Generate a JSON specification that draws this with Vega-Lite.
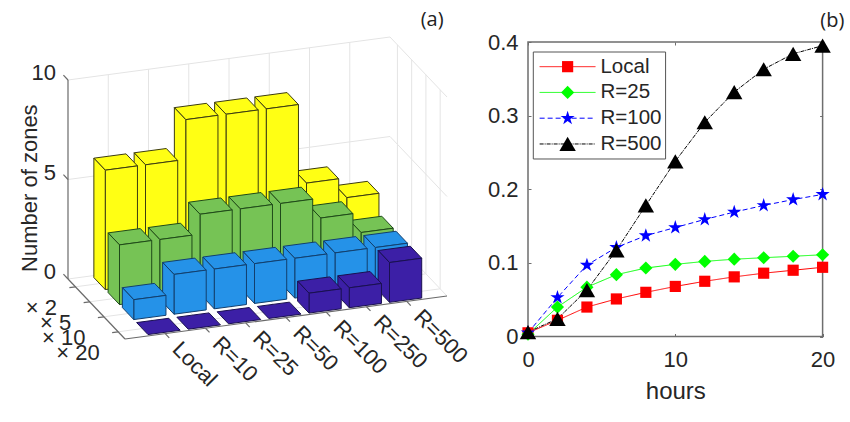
{"$schema":"https://vega.github.io/schema/vega-lite/v6.json","padding":0,"background":"white","bounds":"flush","spacing":28,"config":{"font":"Liberation Sans"},
"datasets":{
"bars":[
{"radius":"R=500","multiplier":"× 2","zones":3},{"radius":"R=250","multiplier":"× 2","zones":4},{"radius":"R=100","multiplier":"× 2","zones":8},{"radius":"R=50","multiplier":"× 2","zones":8},{"radius":"R=25","multiplier":"× 2","zones":8},{"radius":"R=10","multiplier":"× 2","zones":6},{"radius":"Local","multiplier":"× 2","zones":6},
{"radius":"R=500","multiplier":"× 5","zones":2},{"radius":"R=250","multiplier":"× 5","zones":3},{"radius":"R=100","multiplier":"× 5","zones":4},{"radius":"R=50","multiplier":"× 5","zones":4},{"radius":"R=25","multiplier":"× 5","zones":4},{"radius":"R=10","multiplier":"× 5","zones":3},{"radius":"Local","multiplier":"× 5","zones":3},
{"radius":"R=500","multiplier":"× 10","zones":2},{"radius":"R=250","multiplier":"× 10","zones":2},{"radius":"R=100","multiplier":"× 10","zones":2},{"radius":"R=50","multiplier":"× 10","zones":2},{"radius":"R=25","multiplier":"× 10","zones":2},{"radius":"R=10","multiplier":"× 10","zones":2},{"radius":"Local","multiplier":"× 10","zones":1},
{"radius":"R=500","multiplier":"× 20","zones":2},{"radius":"R=250","multiplier":"× 20","zones":1},{"radius":"R=100","multiplier":"× 20","zones":1},{"radius":"R=50","multiplier":"× 20","zones":0},{"radius":"R=25","multiplier":"× 20","zones":0},{"radius":"R=10","multiplier":"× 20","zones":0},{"radius":"Local","multiplier":"× 20","zones":0}],
"grid":[
{"u":1,"v":5,"z":0,"u2":1,"v2":5,"z2":10},{"u":2,"v":5,"z":0,"u2":2,"v2":5,"z2":10},{"u":3,"v":5,"z":0,"u2":3,"v2":5,"z2":10},{"u":4,"v":5,"z":0,"u2":4,"v2":5,"z2":10},{"u":5,"v":5,"z":0,"u2":5,"v2":5,"z2":10},{"u":6,"v":5,"z":0,"u2":6,"v2":5,"z2":10},{"u":7,"v":5,"z":0,"u2":7,"v2":5,"z2":10},
{"u":0,"v":5,"z":0,"u2":8,"v2":5,"z2":0},{"u":0,"v":5,"z":5,"u2":8,"v2":5,"z2":5},{"u":0,"v":5,"z":10,"u2":8,"v2":5,"z2":10},
{"u":8,"v":0.6,"z":0,"u2":8,"v2":0.6,"z2":10},{"u":8,"v":1.85,"z":0,"u2":8,"v2":1.85,"z2":10},{"u":8,"v":3.1,"z":0,"u2":8,"v2":3.1,"z2":10},{"u":8,"v":4.35,"z":0,"u2":8,"v2":4.35,"z2":10},
{"u":8,"v":0,"z":0,"u2":8,"v2":5,"z2":0},{"u":8,"v":0,"z":5,"u2":8,"v2":5,"z2":5},{"u":8,"v":0,"z":10,"u2":8,"v2":5,"z2":10},
{"u":1,"v":0,"z":0,"u2":1,"v2":5,"z2":0},{"u":2,"v":0,"z":0,"u2":2,"v2":5,"z2":0},{"u":3,"v":0,"z":0,"u2":3,"v2":5,"z2":0},{"u":4,"v":0,"z":0,"u2":4,"v2":5,"z2":0},{"u":5,"v":0,"z":0,"u2":5,"v2":5,"z2":0},{"u":6,"v":0,"z":0,"u2":6,"v2":5,"z2":0},{"u":7,"v":0,"z":0,"u2":7,"v2":5,"z2":0},
{"u":0,"v":0.6,"z":0,"u2":8,"v2":0.6,"z2":0},{"u":0,"v":1.85,"z":0,"u2":8,"v2":1.85,"z2":0},{"u":0,"v":3.1,"z":0,"u2":8,"v2":3.1,"z2":0},{"u":0,"v":4.35,"z":0,"u2":8,"v2":4.35,"z2":0}],
"axes3d":[
{"u":0,"v":5,"z":0,"u2":0,"v2":5,"z2":10},{"u":0,"v":0,"z":0,"u2":8,"v2":0,"z2":0},{"u":0,"v":0,"z":0,"u2":0,"v2":5,"z2":0},
{"u":0,"v":5,"z":0,"u2":0,"v2":5.4,"z2":0},{"u":0,"v":5,"z":5,"u2":0,"v2":5.4,"z2":5},{"u":0,"v":5,"z":10,"u2":0,"v2":5.4,"z2":10},
{"u":1,"v":0,"z":0,"u2":1,"v2":-0.35,"z2":0},{"u":2,"v":0,"z":0,"u2":2,"v2":-0.35,"z2":0},{"u":3,"v":0,"z":0,"u2":3,"v2":-0.35,"z2":0},{"u":4,"v":0,"z":0,"u2":4,"v2":-0.35,"z2":0},{"u":5,"v":0,"z":0,"u2":5,"v2":-0.35,"z2":0},{"u":6,"v":0,"z":0,"u2":6,"v2":-0.35,"z2":0},{"u":7,"v":0,"z":0,"u2":7,"v2":-0.35,"z2":0},
{"u":0,"v":0.6,"z":0,"u2":-0.15,"v2":0.6,"z2":0},{"u":0,"v":1.85,"z":0,"u2":-0.15,"v2":1.85,"z2":0},{"u":0,"v":3.1,"z":0,"u2":-0.15,"v2":3.1,"z2":0},{"u":0,"v":4.35,"z":0,"u2":-0.15,"v2":4.35,"z2":0}],
"lines":[
{"hours":0,"value":0.005,"series":"Local"},{"hours":2,"value":0.022,"series":"Local"},{"hours":4,"value":0.04,"series":"Local"},{"hours":6,"value":0.051,"series":"Local"},{"hours":8,"value":0.06,"series":"Local"},{"hours":10,"value":0.068,"series":"Local"},{"hours":12,"value":0.075,"series":"Local"},{"hours":14,"value":0.081,"series":"Local"},{"hours":16,"value":0.086,"series":"Local"},{"hours":18,"value":0.09,"series":"Local"},{"hours":20,"value":0.094,"series":"Local"},
{"hours":0,"value":0.003,"series":"R=25"},{"hours":2,"value":0.04,"series":"R=25"},{"hours":4,"value":0.067,"series":"R=25"},{"hours":6,"value":0.084,"series":"R=25"},{"hours":8,"value":0.093,"series":"R=25"},{"hours":10,"value":0.098,"series":"R=25"},{"hours":12,"value":0.102,"series":"R=25"},{"hours":14,"value":0.105,"series":"R=25"},{"hours":16,"value":0.107,"series":"R=25"},{"hours":18,"value":0.109,"series":"R=25"},{"hours":20,"value":0.111,"series":"R=25"},
{"hours":0,"value":0.005,"series":"R=100"},{"hours":2,"value":0.053,"series":"R=100"},{"hours":4,"value":0.097,"series":"R=100"},{"hours":6,"value":0.121,"series":"R=100"},{"hours":8,"value":0.137,"series":"R=100"},{"hours":10,"value":0.148,"series":"R=100"},{"hours":12,"value":0.159,"series":"R=100"},{"hours":14,"value":0.169,"series":"R=100"},{"hours":16,"value":0.178,"series":"R=100"},{"hours":18,"value":0.186,"series":"R=100"},{"hours":20,"value":0.193,"series":"R=100"},
{"hours":0,"value":0.006,"series":"R=500"},{"hours":2,"value":0.024,"series":"R=500"},{"hours":4,"value":0.063,"series":"R=500"},{"hours":6,"value":0.117,"series":"R=500"},{"hours":8,"value":0.178,"series":"R=500"},{"hours":10,"value":0.238,"series":"R=500"},{"hours":12,"value":0.291,"series":"R=500"},{"hours":14,"value":0.332,"series":"R=500"},{"hours":16,"value":0.363,"series":"R=500"},{"hours":18,"value":0.384,"series":"R=500"},{"hours":20,"value":0.395,"series":"R=500"}],
"legendRows":[{"series":"Local"},{"series":"R=25"},{"series":"R=100"},{"series":"R=500"}]
},
"hconcat":[
{"width":500,"height":422,"view":{"stroke":null},
"layer":[
{"data":{"name":"grid"},"transform":[{"calculate":"125+40.25*datum.u-11.4*datum.v","as":"px"},{"calculate":"339-5.375*datum.u-12*datum.v-19.9*datum.z","as":"py"},{"calculate":"125+40.25*datum.u2-11.4*datum.v2","as":"px2"},{"calculate":"339-5.375*datum.u2-12*datum.v2-19.9*datum.z2","as":"py2"}],
"mark":{"type":"rule","color":"#e4e4e4","strokeWidth":1},
"encoding":{"x":{"field":"px","type":"quantitative","scale":{"domain":[0,500],"nice":false,"zero":false},"axis":null},"y":{"field":"py","type":"quantitative","scale":{"domain":[422,0],"nice":false,"zero":false},"axis":null},"x2":{"field":"px2"},"y2":{"field":"py2"}}},
{"data":{"name":"axes3d"},"transform":[{"calculate":"125+40.25*datum.u-11.4*datum.v","as":"px"},{"calculate":"339-5.375*datum.u-12*datum.v-19.9*datum.z","as":"py"},{"calculate":"125+40.25*datum.u2-11.4*datum.v2","as":"px2"},{"calculate":"339-5.375*datum.u2-12*datum.v2-19.9*datum.z2","as":"py2"}],
"mark":{"type":"rule","color":"#6a6a6a","strokeWidth":1.2},
"encoding":{"x":{"field":"px","type":"quantitative"},"y":{"field":"py","type":"quantitative"},"x2":{"field":"px2"},"y2":{"field":"py2"}}},
{"data":{"name":"bars"},"transform":[
{"calculate":"indexof(['Local','R=10','R=25','R=50','R=100','R=250','R=500'],datum.radius)+1","as":"uc"},
{"calculate":"indexof(['× 20','× 10','× 5','× 2'],datum.multiplier)*1.25+0.6","as":"vc"},
{"calculate":"[0,1,2]","as":"face"},{"flatten":["face"]},
{"filter":"datum.zones>0||datum.face==0"},
{"calculate":"[0,1,2,3]","as":"c"},{"flatten":["c"]},
{"calculate":"datum.multiplier+datum.radius+datum.face","as":"poly"},
{"calculate":"datum.face==2?datum.uc-0.4:(datum.c==0||datum.c==3?datum.uc-0.4:datum.uc+0.4)","as":"u"},
{"calculate":"datum.face==1?datum.vc-0.5:(datum.face==0?(datum.c<2?datum.vc-0.5:datum.vc+0.5):(datum.c==0||datum.c==3?datum.vc-0.5:datum.vc+0.5))","as":"v"},
{"calculate":"datum.face==0?datum.zones:(datum.c<2?0:datum.zones)","as":"z"},
{"calculate":"125+40.25*datum.u-11.4*datum.v","as":"px"},
{"calculate":"339-5.375*datum.u-12*datum.v-19.9*datum.z","as":"py"}],
"mark":{"type":"line","interpolate":"linear-closed","strokeWidth":1,"strokeJoin":"round"},
"encoding":{"x":{"field":"px","type":"quantitative"},"y":{"field":"py","type":"quantitative"},"detail":{"field":"poly"},"order":{"field":"c"},
"fill":{"field":"multiplier","type":"nominal","legend":null,"scale":{"domain":["× 2","× 5","× 10","× 20"],"range":["#FFFF14","#76C355","#2592E8","#3C1FA6"]}},
"stroke":{"field":"multiplier","type":"nominal","legend":null,"scale":{"domain":["× 2","× 5","× 10","× 20"],"range":["#3c3c10","#1f4a1a","#123f6e","#1a1050"]}}}},
{"data":{"values":[{"radius":"Local"},{"radius":"R=10"},{"radius":"R=25"},{"radius":"R=50"},{"radius":"R=100"},{"radius":"R=250"},{"radius":"R=500"}]},
"transform":[{"calculate":"indexof(['Local','R=10','R=25','R=50','R=100','R=250','R=500'],datum.radius)+1","as":"u"},{"calculate":"125+40.25*datum.u+11.4*0.95","as":"px"},{"calculate":"339-5.375*datum.u+12*1.0","as":"py"}],
"mark":{"type":"text","angle":45,"align":"left","baseline":"middle","fontSize":22,"color":"#262626"},
"encoding":{"x":{"field":"px","type":"quantitative"},"y":{"field":"py","type":"quantitative"},"text":{"field":"radius"}}},
{"data":{"values":[{"multiplier":"× 2"},{"multiplier":"× 5"},{"multiplier":"× 10"},{"multiplier":"× 20"}]},
"transform":[{"calculate":"indexof(['× 20','× 10','× 5','× 2'],datum.multiplier)*1.25+0.6","as":"v"},{"calculate":"125+40.25*(-0.46)-11.4*datum.v","as":"px"},{"calculate":"339-5.375*(-0.46)-12*datum.v","as":"py"}],
"mark":{"type":"text","align":"right","baseline":"middle","dy":19,"fontSize":22,"color":"#262626"},
"encoding":{"x":{"field":"px","type":"quantitative"},"y":{"field":"py","type":"quantitative"},"text":{"field":"multiplier"}}},
{"data":{"values":[{"zones":0},{"zones":5},{"zones":10}]},
"transform":[{"calculate":"125-57","as":"px"},{"calculate":"339-60-19.9*datum.zones","as":"py"}],
"mark":{"type":"text","align":"right","baseline":"middle","dx":-12,"dy":-7,"fontSize":22,"color":"#262626"},
"encoding":{"x":{"field":"px","type":"quantitative"},"y":{"field":"py","type":"quantitative"},"text":{"field":"zones","type":"quantitative"}}},
{"data":{"values":[{"label":"Number of zones","u":-0.94,"v":5,"z":4.82}]},
"transform":[{"calculate":"125+40.25*datum.u-11.4*datum.v","as":"px"},{"calculate":"339-5.375*datum.u-12*datum.v-19.9*datum.z","as":"py"}],
"mark":{"type":"text","angle":270,"align":"center","baseline":"middle","fontSize":22,"color":"#262626"},
"encoding":{"x":{"field":"px","type":"quantitative"},"y":{"field":"py","type":"quantitative"},"text":{"field":"label"}}},
{"data":{"values":[{"label":"(a)","u":7.63,"v":0,"z":13.97}]},
"transform":[{"calculate":"125+40.25*datum.u-11.4*datum.v","as":"px"},{"calculate":"339-5.375*datum.u-12*datum.v-19.9*datum.z","as":"py"}],
"mark":{"type":"text","align":"center","baseline":"middle","fontSize":20,"font":"Open Sans","color":"#222222"},
"encoding":{"x":{"field":"px","type":"quantitative"},"y":{"field":"py","type":"quantitative"},"text":{"field":"label"}}}
]},
{"vconcat":[
{"width":294.6,"height":42,"view":{"stroke":null},"data":{"values":[{"label":"(b)","hours":20.66,"value":0.5}]},
"mark":{"type":"text","align":"center","baseline":"middle","fontSize":20,"font":"Open Sans","color":"#222222"},
"encoding":{"x":{"field":"hours","type":"quantitative","scale":{"domain":[0,20],"nice":false},"axis":null},"y":{"field":"value","type":"quantitative","scale":{"domain":[0,1],"nice":false},"axis":null},"text":{"field":"label"}}},
{"width":294.6,"height":294.5,"view":{"stroke":"#6e6e6e","strokeWidth":1.5},
"resolve":{"axis":{"x":"independent","y":"independent"}},
"layer":[
{"data":{"name":"lines"},"mark":{"type":"line","opacity":0},
"encoding":{"x":{"field":"hours","type":"quantitative","scale":{"domain":[0,20],"nice":false},"axis":{"orient":"top","values":[0,10,20],"labels":false,"title":null,"domain":false,"grid":false,"tickSize":-3,"tickColor":"#6e6e6e"}},
"y":{"field":"value","type":"quantitative","scale":{"domain":[0,0.4],"nice":false},"axis":{"orient":"right","values":[0,0.1,0.2,0.3,0.4],"labels":false,"title":null,"domain":false,"grid":false,"tickSize":-3,"tickColor":"#6e6e6e"}},"detail":{"field":"series"}}},
{"data":{"name":"lines"},"mark":{"type":"line","strokeWidth":1},
"encoding":{"x":{"field":"hours","type":"quantitative","axis":{"orient":"bottom","values":[0,10,20],"grid":false,"domain":false,"tickSize":-3,"tickColor":"#6e6e6e","labelFontSize":22,"labelColor":"#262626","labelPadding":16,"labelFlush":false,"title":"hours","titleFontSize":24,"titleFontWeight":"normal","titleColor":"#262626","titlePadding":9,"format":"d"}},
"y":{"field":"value","type":"quantitative","axis":{"orient":"left","values":[0,0.1,0.2,0.3,0.4],"grid":false,"domain":false,"tickSize":-3,"tickColor":"#6e6e6e","labelFontSize":22,"labelColor":"#262626","labelPadding":13,"labelFlush":false,"title":null,"labelExpr":"datum.value==0?'0':format(datum.value,'.1f')"}},
"detail":{"field":"series"},
"color":{"field":"series","type":"nominal","legend":null,"scale":{"domain":["Local","R=25","R=100","R=500"],"range":["#ff0000","#00ff00","#0000ff","#000000"]}},
"strokeDash":{"field":"series","type":"nominal","legend":null,"scale":{"domain":["Local","R=25","R=100","R=500"],"range":[[1,0],[1,0],[5,3],[4,1,1,1]]}}}},
{"data":{"name":"lines"},"mark":{"type":"point","filled":true,"opacity":1},
"encoding":{"x":{"field":"hours","type":"quantitative","axis":null},"y":{"field":"value","type":"quantitative","axis":null},
"color":{"field":"series","type":"nominal","legend":null},
"shape":{"field":"series","type":"nominal","legend":null,"scale":{"domain":["Local","R=25","R=100","R=500"],"range":["square","diamond","M0,-1L0.2245,-0.309L0.951,-0.309L0.363,0.118L0.588,0.809L0,0.382L-0.588,0.809L-0.363,0.118L-0.951,-0.309L-0.2245,-0.309Z","triangle-up"]}},
"size":{"field":"series","type":"nominal","legend":null,"scale":{"domain":["Local","R=25","R=100","R=500"],"range":[125,270,350,380]}}}},
{"data":{"values":[{"box":"legend"}]},"mark":{"type":"rect","fill":"white","stroke":"#555555","strokeWidth":1},
"encoding":{"x":{"datum":0.36,"type":"quantitative","axis":null},"x2":{"datum":9.34},"y":{"datum":0.3864,"type":"quantitative","axis":null},"y2":{"datum":0.2411}}},
{"data":{"name":"legendRows"},"transform":[{"calculate":"0.3665-0.0350*indexof(['Local','R=25','R=100','R=500'],datum.series)","as":"ly"}],
"mark":{"type":"rule","strokeWidth":1},
"encoding":{"x":{"datum":0.79,"type":"quantitative","axis":null},"x2":{"datum":4.58},"y":{"field":"ly","type":"quantitative","axis":null},"color":{"field":"series","type":"nominal","legend":null},"strokeDash":{"field":"series","type":"nominal","legend":null}}},
{"data":{"name":"legendRows"},"transform":[{"calculate":"0.3665-0.0350*indexof(['Local','R=25','R=100','R=500'],datum.series)","as":"ly"}],
"mark":{"type":"point","filled":true,"opacity":1},
"encoding":{"x":{"datum":2.69,"type":"quantitative","axis":null},"y":{"field":"ly","type":"quantitative","axis":null},"color":{"field":"series","type":"nominal","legend":null},"shape":{"field":"series","type":"nominal","legend":null},"size":{"field":"series","type":"nominal","legend":null}}},
{"data":{"name":"legendRows"},"transform":[{"calculate":"0.3665-0.0350*indexof(['Local','R=25','R=100','R=500'],datum.series)","as":"ly"}],
"mark":{"type":"text","align":"left","baseline":"middle","fontSize":20.5,"color":"#262626"},
"encoding":{"x":{"datum":4.92,"type":"quantitative","axis":null},"y":{"field":"ly","type":"quantitative","axis":null},"text":{"field":"series"}}}
]}
],"spacing":0,"bounds":"flush"}
]}
